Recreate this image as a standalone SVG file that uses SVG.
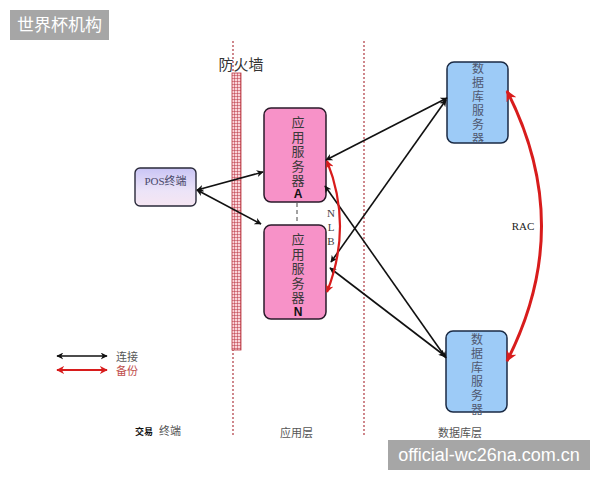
<svg xmlns="http://www.w3.org/2000/svg" width="600" height="480" viewBox="0 0 600 480">
<defs>
<style>
.cjk{font-family:"Liberation Serif","Noto Sans CJK SC",serif;}
.vl{stroke:#b5474f;stroke-width:1.3;stroke-dasharray:2 2;fill:none}
.app{fill:#f792c8;stroke:#2a1a2a;stroke-width:1.5}
.db{fill:#9dcbf7;stroke:#1a2a44;stroke-width:1.5}
.at{font-size:13px;fill:#3a3a3a;text-anchor:middle}
.dt{font-size:12px;fill:#505870;text-anchor:middle}
.conn{stroke:#111;stroke-width:1.6;fill:none;marker-start:url(#ab);marker-end:url(#ab)}
.red{stroke:#d81c1c;fill:none}
</style>
<marker id="ab" viewBox="0 0 10 10" refX="9" refY="5" markerWidth="7" markerHeight="7" markerUnits="userSpaceOnUse" orient="auto-start-reverse"><path d="M0,0 L10,5 L0,10 L3,5 Z" fill="#111"/></marker>
<marker id="ar" viewBox="0 0 10 10" refX="9" refY="5" markerWidth="8" markerHeight="8" markerUnits="userSpaceOnUse" orient="auto-start-reverse"><path d="M0,0 L10,5 L0,10 L3,5 Z" fill="#d81c1c"/></marker>
<marker id="ar2" viewBox="0 0 10 10" refX="9" refY="5" markerWidth="11" markerHeight="11" markerUnits="userSpaceOnUse" orient="auto-start-reverse"><path d="M0,0 L10,5 L0,10 L3,5 Z" fill="#d81c1c"/></marker>
<pattern id="grid" width="3" height="3" patternUnits="userSpaceOnUse"><rect width="3" height="3" fill="#fad4da"/><path d="M0,0 H3 M0,0 V3" stroke="#b8323e" stroke-width="1"/></pattern>
<linearGradient id="pos" x1="0" y1="0" x2="0" y2="1"><stop offset="0" stop-color="#c9c4f5"/><stop offset="0.6" stop-color="#ece4f8"/><stop offset="1" stop-color="#f6e6f2"/></linearGradient>
</defs>
<rect width="600" height="480" fill="#fff"/>

<g id="title"><rect x="10" y="10" width="99" height="30" fill="#a6a6a6"/><text x="59.5" y="31" font-family="Noto Sans CJK SC, sans-serif" font-size="17" fill="#fff" text-anchor="middle">世界杯机构</text></g>

<g id="layers">
<line class="vl" x1="233" y1="41" x2="233" y2="436"/>
<line class="vl" x1="364" y1="41" x2="364" y2="436"/>
</g>

<g id="firewall">
<rect x="232" y="73" width="9" height="277" fill="url(#grid)" stroke="#b8323e" stroke-width="0.8"/>
<text class="cjk" x="241" y="70" font-size="15" fill="#333" text-anchor="middle">防火墙</text>
</g>

<g id="pos-node"><rect x="135" y="168" width="61" height="38" rx="5" fill="url(#pos)" stroke="#2a2a3a" stroke-width="1.4"/><text class="cjk" x="165.5" y="185" font-size="11" fill="#4a4a6a" text-anchor="middle">POS终端</text></g>

<g id="app-a"><rect class="app" x="264" y="108" width="62" height="94" rx="7"/>
<text class="cjk at" x="298" y="127">应</text><text class="cjk at" x="298" y="142">用</text><text class="cjk at" x="298" y="156">服</text><text class="cjk at" x="298" y="171">务</text><text class="cjk at" x="298" y="185">器</text>
<text x="298" y="198" font-family="Liberation Sans, sans-serif" font-weight="bold" font-size="12" fill="#111" text-anchor="middle">A</text></g>

<g id="app-n"><rect class="app" x="264" y="225" width="62" height="94" rx="7"/>
<text class="cjk at" x="298" y="244">应</text><text class="cjk at" x="298" y="259">用</text><text class="cjk at" x="298" y="273">服</text><text class="cjk at" x="298" y="288">务</text><text class="cjk at" x="298" y="302">器</text>
<text x="298" y="316" font-family="Liberation Sans, sans-serif" font-weight="bold" font-size="12" fill="#111" text-anchor="middle">N</text></g>

<g id="db-top"><rect class="db" x="447" y="62" width="61" height="81" rx="7"/>
<text class="cjk dt" x="478" y="73">数</text><text class="cjk dt" x="478" y="87">据</text><text class="cjk dt" x="478" y="101">库</text><text class="cjk dt" x="478" y="115">服</text><text class="cjk dt" x="478" y="129">务</text><text class="cjk dt" x="478" y="143">器</text></g>

<g id="db-bottom"><rect class="db" x="446" y="331" width="61" height="81" rx="7"/>
<text class="cjk dt" x="477" y="344">数</text><text class="cjk dt" x="477" y="358">据</text><text class="cjk dt" x="477" y="372">库</text><text class="cjk dt" x="477" y="386">服</text><text class="cjk dt" x="477" y="400">务</text><text class="cjk dt" x="477" y="414">器</text></g>

<g id="connectors">
<line x1="297" y1="203" x2="297" y2="224" stroke="#444" stroke-width="1" stroke-dasharray="4 3"/>
<line class="conn" x1="197" y1="190" x2="263" y2="172"/>
<line class="conn" x1="197" y1="190" x2="261" y2="224"/>
<line class="conn" x1="326" y1="160" x2="447" y2="98"/>
<line class="conn" x1="331" y1="262" x2="446" y2="100"/>
<line class="conn" x1="325" y1="186" x2="446" y2="358"/>
<line class="conn" x1="330" y1="268" x2="445" y2="356"/>
<path class="red" d="M327,161 Q353,226 327,292" stroke-width="2.2" marker-start="url(#ar)" marker-end="url(#ar)"/>
<path class="red" d="M507,91 Q576,226 507,361" stroke-width="3" marker-start="url(#ar2)" marker-end="url(#ar2)"/>
</g>

<g id="labels">
<text class="cjk" x="331" y="217" font-size="11" fill="#444" text-anchor="middle">N</text>
<text class="cjk" x="331" y="231" font-size="11" fill="#444" text-anchor="middle">L</text>
<text class="cjk" x="331" y="245" font-size="11" fill="#444" text-anchor="middle">B</text>
<text class="cjk" x="523" y="230" font-size="11" fill="#222" text-anchor="middle">RAC</text>
</g>

<g id="legend">
<line x1="57" y1="356" x2="107" y2="356" stroke="#111" stroke-width="1.6" marker-start="url(#ab)" marker-end="url(#ab)"/>
<line x1="57" y1="370" x2="107" y2="370" stroke="#d81c1c" stroke-width="2" marker-start="url(#ar)" marker-end="url(#ar)"/>
<text class="cjk" x="116" y="361" font-size="11" fill="#555">连接</text>
<text class="cjk" x="116" y="375" font-size="11" fill="#c0504d">备份</text>
</g>

<g id="bottom-labels">
<text x="135" y="435" font-family="Noto Sans CJK SC, sans-serif" font-weight="bold" font-size="9" fill="#111">交易</text>
<text class="cjk" x="159" y="435" font-size="11" fill="#555">终端</text>
<text class="cjk" x="280" y="437" font-size="11" fill="#555">应用层</text>
<text class="cjk" x="438" y="437" font-size="11" fill="#555">数据库层</text>
</g>

<g id="watermark"><rect x="388" y="440" width="202" height="30" fill="#a6a6a6"/><text x="489" y="461" font-family="Liberation Sans, sans-serif" font-size="18" fill="#fff" text-anchor="middle">official-wc26na.com.cn</text></g>
</svg>
